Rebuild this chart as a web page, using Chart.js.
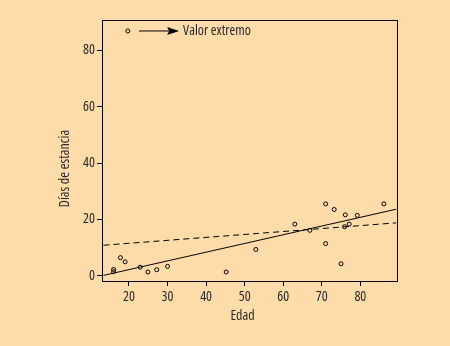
<!DOCTYPE html>
<html lang="es">
<head>
    <meta charset="UTF-8" />
    <title>Días de estancia por edad</title>
    <script src="https://cdn.jsdelivr.net/npm/chart.js"></script>
    <style>
        body {
            margin: 0;
            background: #fddcaa;
        }
        #chart {
            display: block;
        }
    </style>
</head>
<body>
    <canvas id="chart" width="450" height="346"></canvas>

    <script>
        // patient ages and length of stay
        const edad = [16, 16, 17.8, 19, 22.9, 24.9, 27.2, 30, 45.2, 52.9, 63, 66.9, 71, 71, 73.2, 75, 76.1, 75.9, 77.1, 79.2, 86.1, 19.7];
        const dias = [2.2, 1.4, 6.4, 4.9, 3.0, 1.3, 2.1, 3.3, 1.3, 9.3, 18.3, 16.1, 25.5, 11.4, 23.5, 4.2, 21.6, 17.4, 18.3, 21.4, 25.5, 86.9];

        // fitted lines (end points): solid = without outlier, dashed = with outlier
        const lineaX = [13.4, 89.3];
        const lineaSinExtremo = [0.1, 23.6];
        const lineaConExtremo = [10.8, 18.75];

        const xTicks = [20, 30, 40, 50, 60, 70, 80];
        const yTicks = [0, 20, 40, 60, 80];

        // outlier note
        const notaTexto = "Valor extremo";
        const notaFlecha = [22.6, 33.0];
        const notaY = 86.9;

        const FONT = "'Open Sans', sans-serif";
        const TEXT = "#2a2a2a";

        const toXY = (xs, ys) => xs.map((x, i) => ({ x: x, y: ys[i] }));

        const frame = {
            id: "frame",
            afterDraw(chart) {
                const { ctx, chartArea: a, scales } = chart;
                ctx.save();
                ctx.strokeStyle = "#000";
                ctx.lineWidth = 1;
                ctx.strokeRect(Math.round(a.left) + 0.5, Math.round(a.top) + 0.5,
                    Math.round(a.right - a.left), Math.round(a.bottom - a.top));

                // arrow pointing at the outlier note
                const y = scales.y.getPixelForValue(notaY);
                const x0 = scales.x.getPixelForValue(notaFlecha[0]);
                const x1 = scales.x.getPixelForValue(notaFlecha[1]);
                ctx.beginPath();
                ctx.moveTo(x0, y);
                ctx.lineTo(x1 - 8, y);
                ctx.stroke();
                ctx.fillStyle = "#000";
                ctx.beginPath();
                ctx.moveTo(x1, y);
                ctx.lineTo(x1 - 12, y - 4);
                ctx.lineTo(x1 - 10, y);
                ctx.lineTo(x1 - 12, y + 4);
                ctx.closePath();
                ctx.fill();

                ctx.fillStyle = TEXT;
                ctx.font = "condensed 14px " + FONT;
                ctx.textBaseline = "middle";
                ctx.textAlign = "left";
                ctx.fillText(notaTexto, x1 + 4, y);

                // axis titles
                ctx.textAlign = "center";
                ctx.fillText("Edad", (a.left + a.right) / 2 - 7, a.bottom + 35);
                ctx.translate(a.left - 37, (a.top + a.bottom) / 2 + 18);
                ctx.rotate(-Math.PI / 2);
                ctx.fillText("Días de estancia", 0, 0);
                ctx.restore();
            }
        };

        const axisCommon = {
            grid: { display: true, drawOnChartArea: false, color: "#000", tickLength: 5, tickWidth: 1 },
            border: { display: false },
            ticks: { color: TEXT, font: { family: FONT, size: 14, weight: "condensed" } }
        };

        new Chart(document.getElementById("chart"), {
            type: "scatter",
            data: {
                datasets: [
                    {
                        label: "Pacientes",
                        data: toXY(edad, dias),
                        pointStyle: "circle",
                        pointRadius: 2,
                        pointBorderWidth: 1,
                        pointBorderColor: "#000",
                        pointBackgroundColor: "rgba(0,0,0,0)"
                    },
                    {
                        label: "Sin valor extremo",
                        type: "line",
                        data: toXY(lineaX, lineaSinExtremo),
                        borderColor: "#000",
                        borderWidth: 1,
                        pointRadius: 0
                    },
                    {
                        label: "Con valor extremo",
                        type: "line",
                        data: toXY(lineaX, lineaConExtremo),
                        borderColor: "#000",
                        borderWidth: 1,
                        borderDash: [6, 4],
                        pointRadius: 0
                    }
                ]
            },
            options: {
                responsive: false,
                animation: false,
                layout: { padding: { top: 20, right: 53, left: 0, bottom: 0 } },
                plugins: {
                    legend: { display: false },
                    tooltip: { enabled: false }
                },
                scales: {
                    x: {
                        ...axisCommon,
                        type: "linear",
                        min: 13,
                        max: 89.5,
                        ticks: { ...axisCommon.ticks, padding: 3 },
                        afterBuildTicks: (s) => { s.ticks = xTicks.map((v) => ({ value: v })); },
                        afterFit: (s) => { s.height = 65; }
                    },
                    y: {
                        ...axisCommon,
                        type: "linear",
                        min: -1.9,
                        max: 90.8,
                        ticks: { ...axisCommon.ticks, padding: 2 },
                        afterBuildTicks: (s) => { s.ticks = yTicks.map((v) => ({ value: v })); },
                        afterFit: (s) => { s.width = 102; }
                    }
                }
            },
            plugins: [frame]
        });
    </script>
</body>
</html>
